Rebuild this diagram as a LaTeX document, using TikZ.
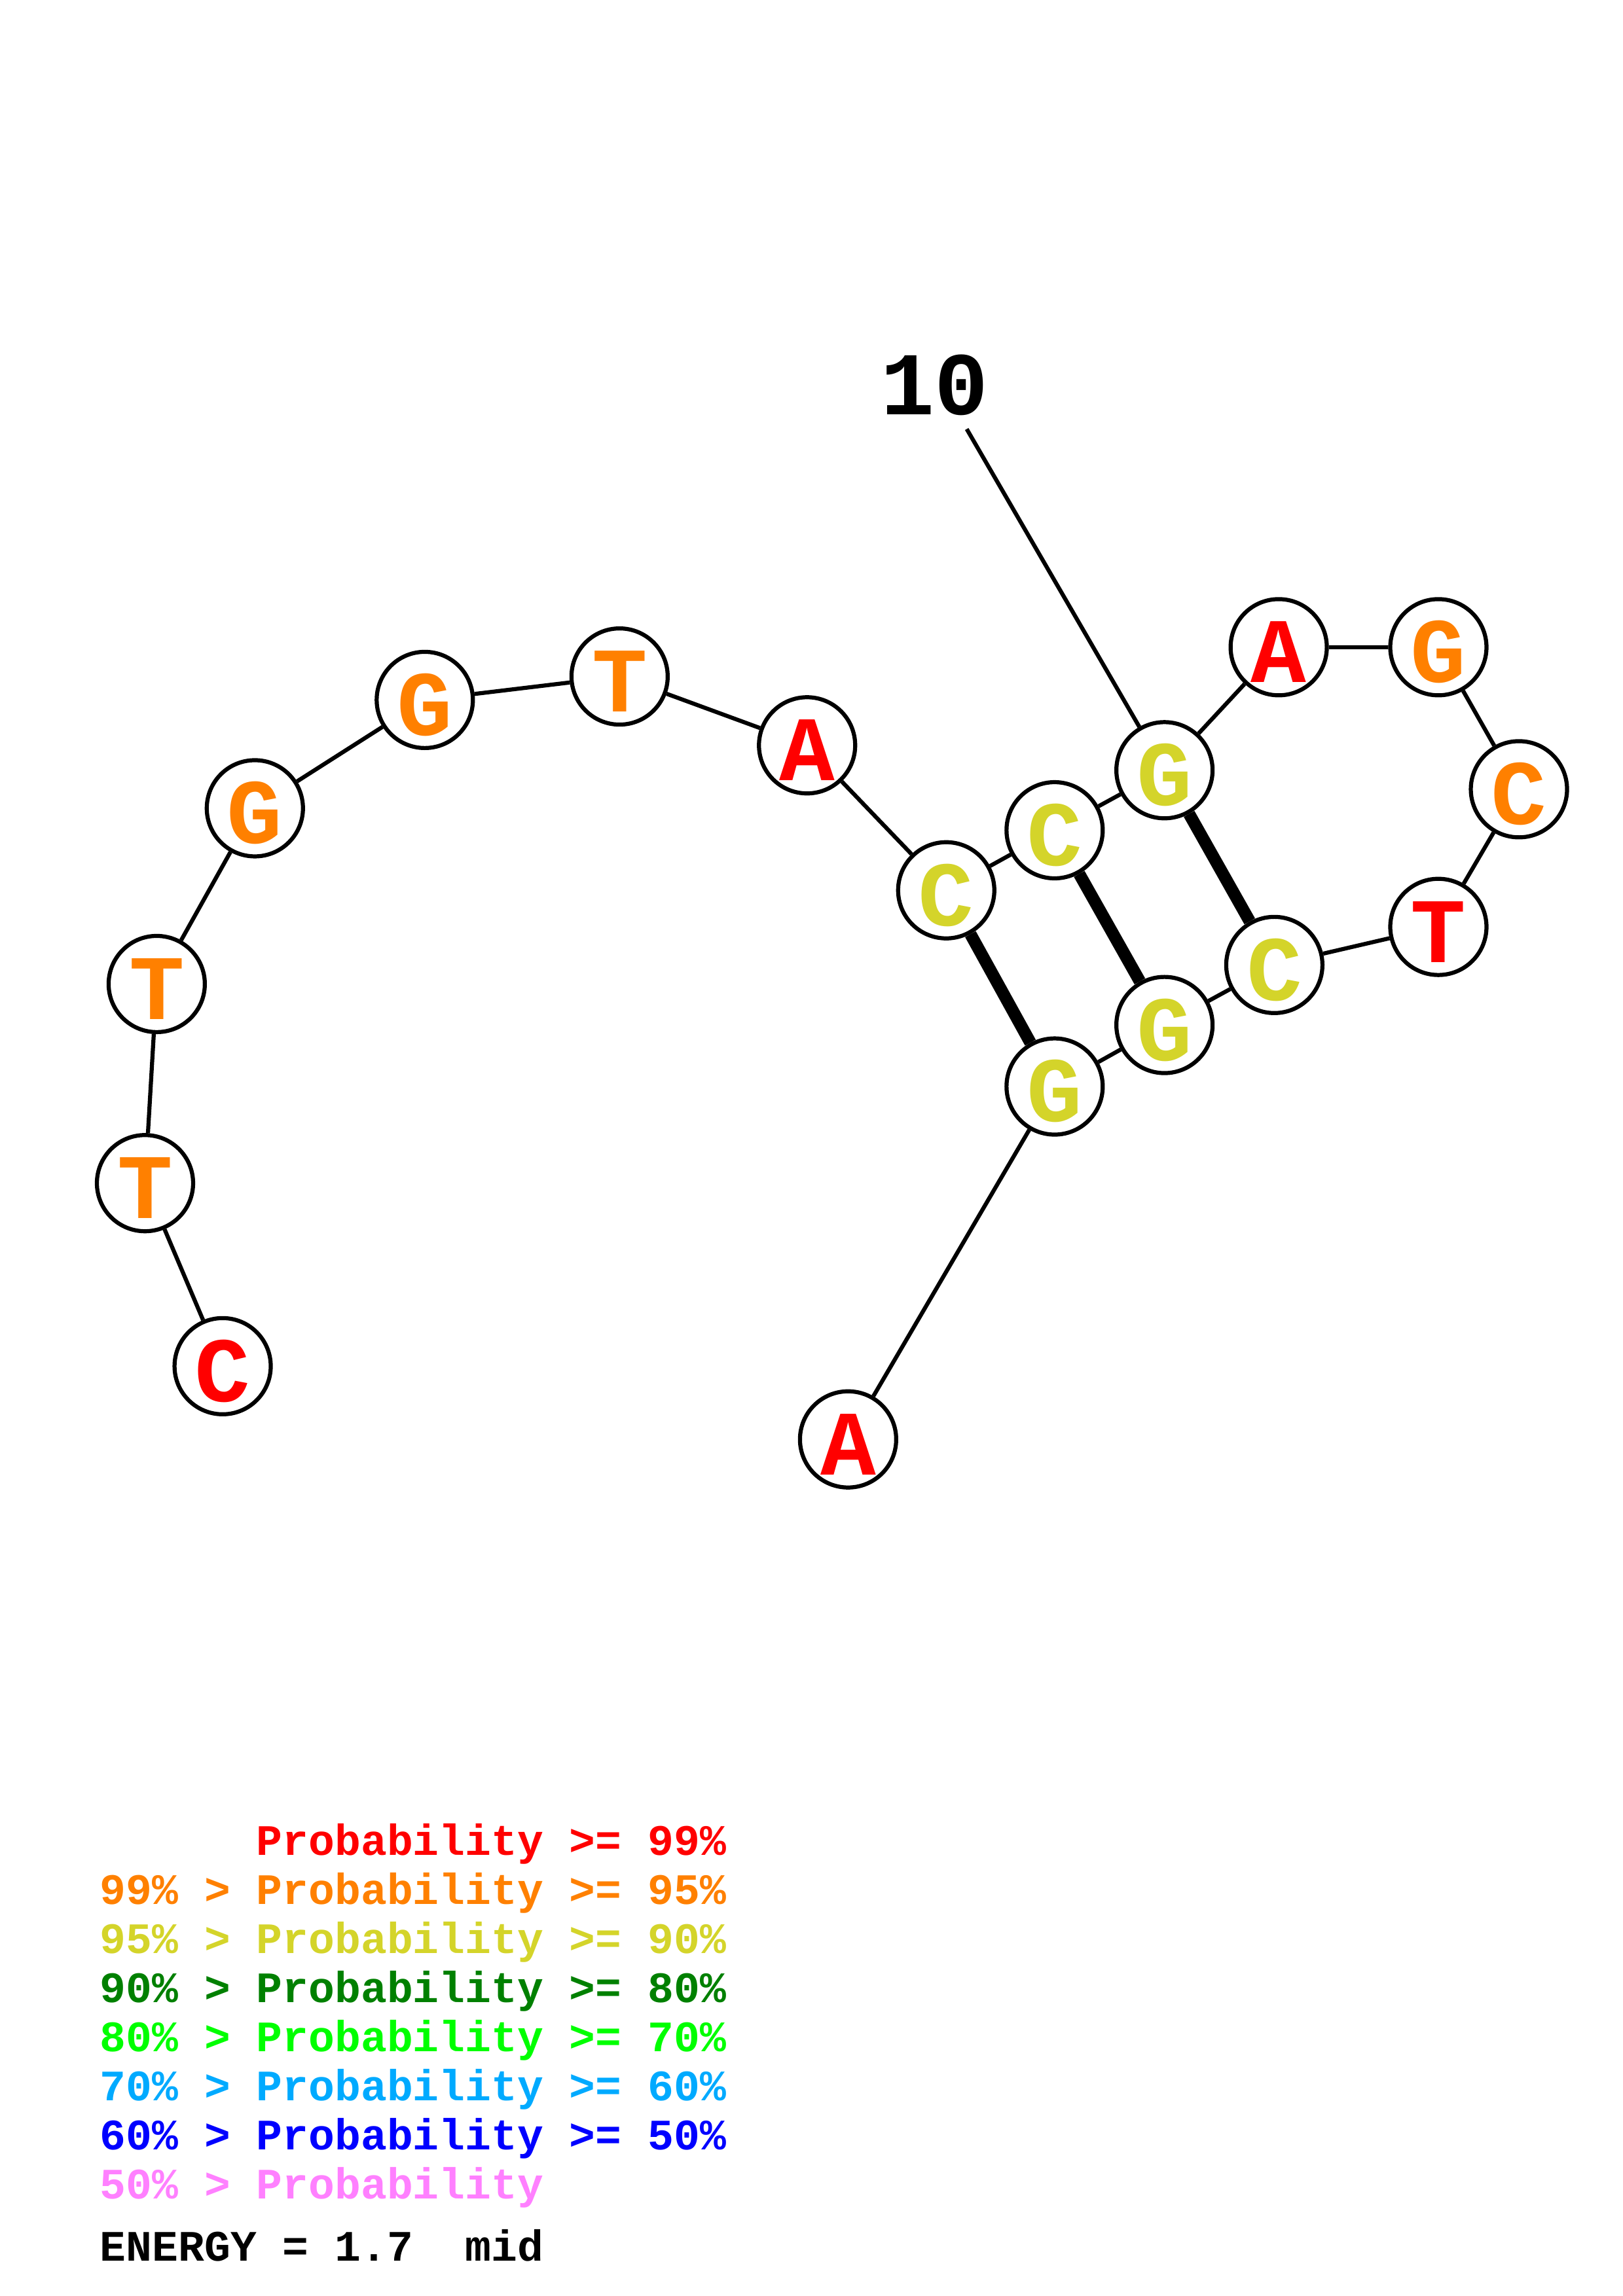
\documentclass[tikz,border=0pt]{standalone}
\usepackage{fontspec}
\setmonofont{Liberation Mono}
\usetikzlibrary{positioning}
\definecolor{pred}{RGB}{255,0,0}
\definecolor{porg}{RGB}{255,128,0}
\definecolor{pyel}{RGB}{212,212,42}
\definecolor{pdgr}{RGB}{0,128,0}
\definecolor{pgrn}{RGB}{0,255,0}
\definecolor{plbl}{RGB}{0,170,255}
\definecolor{pblu}{RGB}{0,0,255}
\definecolor{ppnk}{RGB}{255,128,255}

\begin{document}
\begin{tikzpicture}[x=0.18953mm,y=-0.18953mm,
  nt/.style={circle,draw=black,line width=1.5pt,fill=white,minimum size=12.45mm,inner sep=0pt,
    text height=26pt,text depth=0pt,font=\ttfamily\bfseries\fontsize{34}{34}\selectfont},
  bb/.style={line width=1.5pt},
  bp/.style={line width=4.5pt},
  lg/.style={anchor=base west,inner sep=0pt,font=\ttfamily\bfseries\fontsize{16}{16}\selectfont}]
\useasboundingbox (0,0) rectangle (1108,1568);
% nucleotides
\node[nt,text=pred](c1) at (152,933){C};
\node[nt,text=porg](t2) at (99,808){T};
\node[nt,text=porg](t3) at (107,672){T};
\node[nt,text=porg](g4) at (174,552){G};
\node[nt,text=porg](g5) at (290,478){G};
\node[nt,text=porg](t6) at (423,462){T};
\node[nt,text=pred](a7) at (551,509){A};
\node[nt,text=pyel](c8) at (646,608){C};
\node[nt,text=pyel](c9) at (720,567){C};
\node[nt,text=pyel](g10) at (795,526){G};
\node[nt,text=pred](a11) at (873,442){A};
\node[nt,text=porg](g12) at (982,442){G};
\node[nt,text=porg](c13) at (1037,539){C};
\node[nt,text=pred](t14) at (982,633){T};
\node[nt,text=pyel](c15) at (870,659){C};
\node[nt,text=pyel](g16) at (795,700){G};
\node[nt,text=pyel](g17) at (720,742){G};
\node[nt,text=pred](a18) at (579,983){A};
% backbone
\draw[bb](c1)--(t2)--(t3)--(g4)--(g5)--(t6)--(a7)--(c8)--(c9)--(g10)--(a11)--(g12)--(c13)--(t14)--(c15)--(g16)--(g17)--(a18);
% pairs
\draw[bp](c8)--(g17);\draw[bp](c9)--(g16);\draw[bp](g10)--(c15);
% position label
\node[font=\ttfamily\bfseries\fontsize{33}{33}\selectfont](n10) at (638,263){10};
\coordinate(p10) at (660,293);
\draw[bb](p10)--(g10);
% legend
\node[lg,text=pred](l1) at (68,1267){\hphantom{99\% > }Probability >= 99\%};
\node[lg,text=porg](l2) at (68,1300.5){99\% > Probability >= 95\%};
\node[lg,text=pyel](l3) at (68,1334){95\% > Probability >= 90\%};
\node[lg,text=pdgr](l4) at (68,1367.5){90\% > Probability >= 80\%};
\node[lg,text=pgrn](l5) at (68,1401){80\% > Probability >= 70\%};
\node[lg,text=plbl](l6) at (68,1434.5){70\% > Probability >= 60\%};
\node[lg,text=pblu](l7) at (68,1468){60\% > Probability >= 50\%};
\node[lg,text=ppnk](l8) at (68,1501.5){50\% > Probability};
\node[lg](en) at (68,1544){ENERGY = 1.7\ \ mid};
\end{tikzpicture}
\end{document}
